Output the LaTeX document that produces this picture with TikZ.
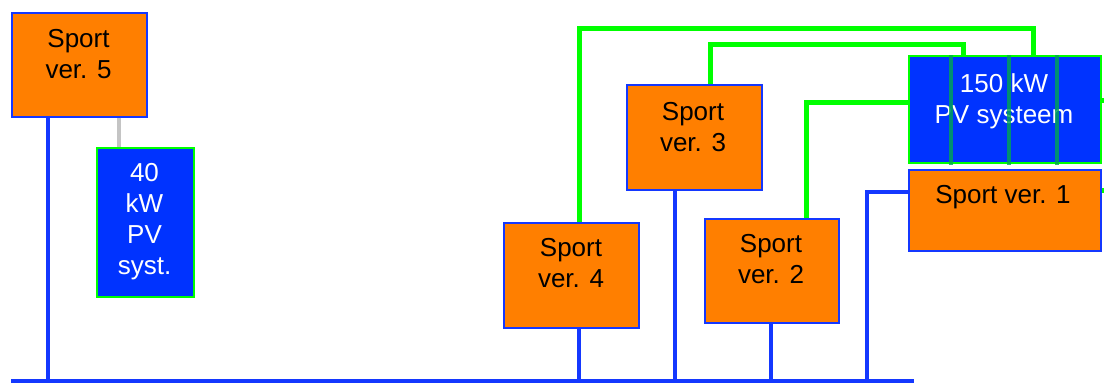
\documentclass[tikz,border=0pt]{standalone}
\usepackage{fontspec}
\setmainfont{Liberation Sans}
\usetikzlibrary{calc}
\definecolor{org}{HTML}{FF7F00}
\definecolor{pvblue}{HTML}{0033FF}
\definecolor{lnblue}{HTML}{1438FF}
\definecolor{grn}{HTML}{00FF00}
\definecolor{dgrn}{HTML}{00A651}
\definecolor{gline}{HTML}{C4C4C4}
\begin{document}
\begin{tikzpicture}[x=1pt,y=-1pt,
  sportbox/.style={draw=lnblue, line width=1.5pt, fill=org, inner sep=0pt, anchor=north west},
  pvbox/.style={draw=grn, line width=2pt, fill=pvblue, inner sep=0pt, anchor=north west},
  txt/.style={font=\fontsize{26}{31}\selectfont, align=center, inner sep=0pt, anchor=north},
  bl/.style={draw=lnblue, line width=4.6pt},
  gl/.style={draw=grn, line width=5pt},
  stripe/.style={draw=dgrn, line width=4pt, opacity=0.8},
  grayl/.style={draw=gline, line width=4.5pt},
]
\useasboundingbox (0,0) rectangle (1104,383);

% boxes
\node[sportbox, minimum width=135pt, minimum height=104pt] (s5) at (11,12) {};
\node[pvbox, minimum width=97pt, minimum height=149pt] (pv40) at (96,147) {};
\node[sportbox, minimum width=135pt, minimum height=105pt] (s4) at (503,222) {};
\node[sportbox, minimum width=135pt, minimum height=105pt] (s3) at (626,84) {};
\node[sportbox, minimum width=134pt, minimum height=104pt] (s2) at (704,218) {};
\node[sportbox, minimum width=192pt, minimum height=81pt] (s1) at (908,169) {};
\node[pvbox, minimum width=192pt, minimum height=107pt] (pv150) at (908,55) {};

% texts
\node[txt] (t5) at (78.5,29) {Sport\\ver. 5};
\node[txt, text=white] (t40) at (144.5,163) {40\\kW\\PV\\syst.};
\node[txt] (t4) at (571,238) {Sport\\ver. 4};
\node[txt] (t3) at (693,102) {Sport\\ver. 3};
\node[txt] (t2) at (771,234) {Sport\\ver. 2};
\node[txt] (t1) at (1003,185) {Sport ver. 1};
\node[txt, text=white] (t150) at (1004,73) {150 kW\\PV systeem};

% stripes on the 150 kW field
\foreach \dx in {43,101,149}
  \draw[stripe] ($(pv150.north west)+(\dx,0)$) -- ($(pv150.south west)+(\dx,1)$);

% bus
\coordinate (busL) at (11,381);
\coordinate (busR) at (914,381);
\draw[bl] (busL) -- (busR);

% blue connectors
\draw[bl] ($(s5.south west)+(37,0)$) coordinate (a5) -- (a5 |- busL);
\draw[bl] ($(s4.south west)+(76,0)$) coordinate (a4) -- (a4 |- busL);
\draw[bl] ($(s3.south west)+(49,0)$) coordinate (a3) -- (a3 |- busL);
\draw[bl] ($(s2.south west)+(67,0)$) coordinate (a2) -- (a2 |- busL);
\draw[bl] ($(s1.north west)+(0,23)$) -| ($(busL)+(856,0)$);

% gray connector
\draw[grayl] ($(s5.south west)+(108,0)$) coordinate (g5) -- (g5 |- pv40.north);

% green connectors
\draw[gl] ($(s4.north west)+(76,0)$) |- ($(pv150.north west)+(125,-27)$) -- ($(pv150.north west)+(125,0)$);
\draw[gl] ($(s3.north west)+(84,0)$) |- ($(pv150.north west)+(55,-11)$) -- ($(pv150.north west)+(55,0)$);
\draw[gl] ($(s2.north west)+(102,0)$) |- ($(pv150.north west)+(0,47)$);
\coordinate (edgeA) at (1106,100);
\coordinate (edgeB) at (1106,190);
\draw[gl] (pv150.east |- edgeA) -- (edgeA);
\draw[gl] (s1.east |- edgeB) -- (edgeB);
\end{tikzpicture}
\end{document}
